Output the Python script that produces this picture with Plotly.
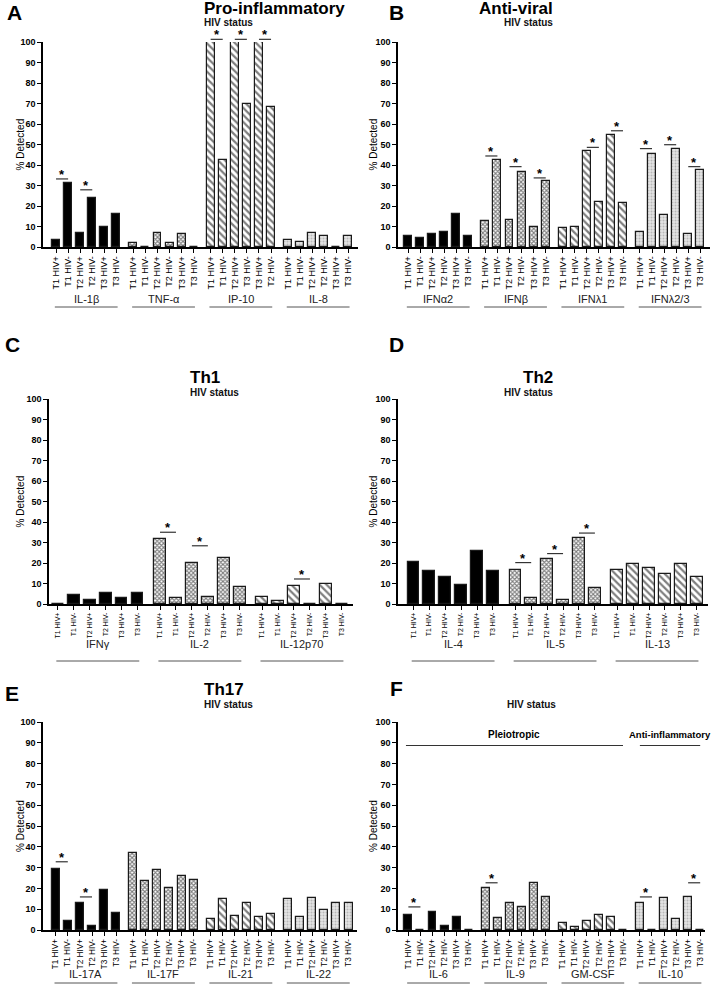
import plotly.graph_objects as go

# ---------------- data ----------------
tick_labels = ["T1 HIV+", "T1 HIV-", "T2 HIV+", "T2 HIV-", "T3 HIV+", "T3 HIV-"]
ip10_labels = ["T1 HIV+", "T1 HIV-", "T2 HIV+", "T3 HIV-", "T3 HIV+", "T2 HIV-"]

# Panel A - Pro-inflammatory
a_groups = ["IL-1β", "TNF-α", "IP-10", "IL-8"]
a_il1b = [3.5, 31.0, 6.7, 24.0, 9.7, 16.0]
a_tnfa = [1.8, 0, 6.7, 1.8, 6.5, 0]
a_ip10 = [100, 42.5, 100, 70.0, 100, 68.5]
a_il8 = [3.5, 2.5, 6.7, 5.5, 0, 5.5]
a_sig = [(0, 0, 1, 33.2), (0, 2, 3, 27.9), (2, 0, 1, 101.3), (2, 2, 3, 101.3), (2, 4, 5, 101.3)]

# Panel B - Anti-viral
b_groups = ["IFNα2", "IFNβ", "IFNλ1", "IFNλ2/3"]
b_ifna2 = [5.6, 4.2, 6.5, 7.2, 16.0, 5.3]
b_ifnb = [12.8, 42.3, 13.2, 36.8, 9.6, 32.2]
b_ifnl1 = [9.2, 10.0, 46.7, 22.1, 54.7, 21.4]
b_ifnl23 = [7.2, 45.5, 15.4, 47.9, 6.4, 37.6]
b_sig = [(1, 0, 1, 44.4), (1, 2, 3, 39.2), (1, 4, 5, 33.7), (2, 2, 3, 48.6), (2, 4, 5, 56.7),
         (3, 0, 1, 48.0), (3, 2, 3, 49.9), (3, 4, 5, 39.2)]

# Panel C - Th1
c_groups = ["IFNγ", "IL-2", "IL-12p70"]
c_ifng = [0, 4.2, 2.0, 5.5, 3.0, 5.3]
c_il2 = [31.5, 2.8, 20.0, 3.5, 22.5, 8.1]
c_il12 = [3.5, 1.3, 8.8, 0, 9.8, 0]
c_sig = [(1, 0, 1, 35.0), (1, 2, 3, 28.4), (2, 2, 3, 12.2)]

# Panel D - Th2
d_groups = ["IL-4", "IL-5", "IL-13"]
d_il4 = [20.3, 16.3, 13.2, 9.2, 25.8, 16.1]
d_il5 = [16.6, 3.0, 22.1, 1.8, 32.2, 8.0]
d_il13 = [16.6, 19.3, 17.6, 14.8, 19.3, 13.3]
d_sig = [(1, 0, 1, 20.2), (1, 2, 3, 24.6), (1, 4, 5, 34.6)]

# Panel E - Th17
e_groups = ["IL-17A", "IL-17F", "IL-21", "IL-22"]
e_il17a = [29.4, 4.3, 13.2, 1.8, 19.3, 8.0]
e_il17f = [36.8, 23.8, 28.8, 20.2, 25.8, 24.2]
e_il21 = [5.4, 14.8, 6.5, 12.8, 6.4, 7.9]
e_il22 = [14.8, 6.1, 15.4, 9.6, 12.8, 12.8]
e_sig = [(0, 0, 1, 32.8), (0, 2, 3, 15.9)]

# Panel F - Pleiotropic / Anti-inflammatory
f_groups = ["IL-6", "IL-9", "GM-CSF", "IL-10"]
f_il6 = [7.3, 0, 8.8, 1.8, 6.3, 0]
f_il9 = [20.2, 5.8, 13.2, 10.9, 22.4, 16.1]
f_gmcsf = [3.5, 1.3, 4.3, 7.3, 6.4, 0]
f_il10 = [12.8, 0, 15.4, 5.3, 16.0, 0]
f_sig = [(0, 0, 1, 11.1), (1, 0, 1, 22.7), (3, 0, 1, 15.9), (3, 4, 5, 22.7)]
f_brackets = [("Pleiotropic", 0, 2, 88.7), ("Anti-inflammatory", 3, 3, 88.7)]

# ---------------- layout helpers ----------------
W, H = 715, 991
FONT = "Liberation Sans, Arial, sans-serif"
STRIDE = 6.4


def px(x):
    return x / W


def py(y):
    return 1 - y / H


def pos(g, k):
    return g * STRIDE + k


styles = [
    dict(color="black", pattern=dict(shape="")),
    dict(color="white", pattern=dict(shape="x", fgcolor="black", bgcolor="white", size=3, solidity=0.6)),
    dict(color="white", pattern=dict(shape="\\", fgcolor="black", bgcolor="white", size=5, solidity=0.45)),
    dict(color="#d9d9d9", pattern=dict(shape=".", fgcolor="#8c8c8c", bgcolor="#e4e4e4", size=3, solidity=0.35)),
]

panels = [
    dict(letter="A", title="Pro-inflammatory", groups=a_groups,
         values=[a_il1b, a_tnfa, a_ip10, a_il8],
         labels=[tick_labels, tick_labels, ip10_labels, tick_labels], sig=a_sig,
         dx=(43, 358), dy=(42, 247), xr=(-1.08, 25.0), bw=0.66, tfs=9,
         letter_xy=(14, 12), title_xy=(202, 9), hiv_xy=(202, 23), ylab_x=20,
         glabel_y=299, gline_y=307),
    dict(letter="B", title="Anti-viral", groups=b_groups,
         values=[b_ifna2, b_ifnb, b_ifnl1, b_ifnl23],
         labels=[tick_labels] * 4, sig=b_sig,
         dx=(398, 710), dy=(42, 247), xr=(-0.83, 25.0), bw=0.66, tfs=9,
         letter_xy=(396, 12), title_xy=(555, 9), hiv_xy=(555, 23), ylab_x=373,
         glabel_y=299, gline_y=307),
    dict(letter="C", title="Th1", groups=c_groups,
         values=[c_ifng, c_il2, c_il12],
         labels=[tick_labels] * 3, sig=c_sig,
         dx=(49, 353), dy=(399, 604), xr=(-0.56, 18.5), bw=0.72, tfs=7,
         letter_xy=(12, 345), title_xy=(188, 377), hiv_xy=(188, 392), ylab_x=20,
         glabel_y=644, gline_y=661),
    dict(letter="D", title="Th2", groups=d_groups,
         values=[d_il4, d_il5, d_il13],
         labels=[tick_labels] * 3, sig=d_sig,
         dx=(398, 708), dy=(399, 604), xr=(-0.96, 18.5), bw=0.72, tfs=7,
         letter_xy=(396, 345), title_xy=(555, 377), hiv_xy=(555, 392), ylab_x=373,
         glabel_y=644, gline_y=661),
    dict(letter="E", title="Th17", groups=e_groups,
         values=[e_il17a, e_il17f, e_il21, e_il22],
         labels=[tick_labels] * 4, sig=e_sig,
         dx=(43, 357), dy=(722, 930), xr=(-1.05, 24.9), bw=0.66, tfs=8.2,
         letter_xy=(12, 693), title_xy=(202, 689), hiv_xy=(202, 704), ylab_x=20,
         glabel_y=974, gline_y=983),
    dict(letter="F", title="", groups=f_groups,
         values=[f_il6, f_il9, f_gmcsf, f_il10],
         labels=[tick_labels] * 4, sig=f_sig,
         dx=(398, 705), dy=(722, 930), xr=(-0.86, 24.6), bw=0.66, tfs=8.2,
         letter_xy=(396, 688), title_xy=(558, 689), hiv_xy=(558, 704), ylab_x=373,
         glabel_y=974, gline_y=983),
]

fig = go.Figure()
annotations = []
shapes = []
layout_axes = {}


def yval_to_paper(p, v):
    top, bot = py(p["dy"][0]), py(p["dy"][1])
    return bot + (top - bot) * v / 100.0


for i, p in enumerate(panels, start=1):
    xa = "x" if i == 1 else f"x{i}"
    ya = "y" if i == 1 else f"y{i}"
    tickvals, ticktext = [], []
    for g, (name, vals) in enumerate(zip(p["groups"], p["values"])):
        xs = [pos(g, k) for k in range(len(vals))]
        tickvals += xs
        ticktext += p["labels"][g]
        st = styles[g]
        fig.add_trace(go.Bar(
            x=xs, y=vals, xaxis=xa, yaxis=ya, width=p["bw"], name=name,
            marker=dict(color=st["color"], pattern=st["pattern"],
                        line=dict(color="#1a1a1a", width=1.2)),
            showlegend=False, hoverinfo="x+y"))
        annotations.append(dict(xref=xa, yref="paper", x=pos(g, 2.5), y=py(p["glabel_y"]),
                                text=name, showarrow=False, yanchor="middle",
                                font=dict(family=FONT, size=11, color="#222")))
        shapes.append(dict(type="line", xref=xa, yref="paper",
                           x0=pos(g, -0.1), x1=pos(g, 5.1),
                           y0=py(p["gline_y"]), y1=py(p["gline_y"]),
                           line=dict(color="#555", width=1)))
    for (g, a, b, yv) in p["sig"]:
        yp = yval_to_paper(p, yv)
        shapes.append(dict(type="line", xref=xa, yref="paper", x0=pos(g, a), x1=pos(g, b),
                           y0=yp, y1=yp, line=dict(color="#333", width=1.2)))
        annotations.append(dict(xref=xa, yref="paper", x=pos(g, (a + b) / 2), y=yp,
                                text="<b>*</b>", showarrow=False, yanchor="bottom", yshift=-5,
                                font=dict(family=FONT, size=13, color="black")))
    ax_key = "xaxis" if i == 1 else f"xaxis{i}"
    ay_key = "yaxis" if i == 1 else f"yaxis{i}"
    layout_axes[ax_key] = dict(
        domain=[px(p["dx"][0]), px(p["dx"][1])], anchor=ya, range=list(p["xr"]),
        automargin=False,
        tickmode="array", tickvals=tickvals, ticktext=ticktext, tickangle=-90,
        ticks="outside", ticklen=4, tickcolor="black", tickwidth=1,
        showline=True, linecolor="black", linewidth=1.5, showgrid=False, zeroline=False,
        tickfont=dict(family=FONT, size=p["tfs"], color="black"), fixedrange=True)
    layout_axes[ay_key] = dict(
        domain=[py(p["dy"][1]), py(p["dy"][0])], anchor=xa, range=[0, 100],
        automargin=False,
        tickmode="linear", tick0=0, dtick=10, ticks="outside", ticklen=4,
        tickcolor="black", tickwidth=1, showline=True, linecolor="black", linewidth=1.5,
        showgrid=False, zeroline=False,
        tickfont=dict(family=FONT, size=9, color="black", weight="bold"), fixedrange=True)
    annotations.append(dict(xref="paper", yref="paper", x=px(p["letter_xy"][0]), y=py(p["letter_xy"][1]),
                            text=f"<b>{p['letter']}</b>", showarrow=False, xanchor="center", yanchor="middle",
                            font=dict(family=FONT, size=21, color="black")))
    if p["title"]:
        annotations.append(dict(xref="paper", yref="paper", x=px(p["title_xy"][0]), y=py(p["title_xy"][1]),
                                text=f"<b>{p['title']}</b>", showarrow=False, yanchor="middle",
                                font=dict(family=FONT, size=17, color="black")))
    annotations.append(dict(xref="paper", yref="paper", x=px(p["hiv_xy"][0]), y=py(p["hiv_xy"][1]),
                            text="<b>HIV status</b>", showarrow=False, yanchor="middle",
                            font=dict(family=FONT, size=10, color="#111")))
    annotations.append(dict(xref="paper", yref="paper", x=px(p["ylab_x"]),
                            y=py((p["dy"][0] + p["dy"][1]) / 2), text="% Detected",
                            textangle=-90, showarrow=False, xanchor="center", yanchor="middle",
                            font=dict(family=FONT, size=10, color="black")))

# Panel F brackets (Pleiotropic / Anti-inflammatory)
pf = panels[5]
for (txt, g0, g1, yv) in f_brackets:
    x0 = pos(g0, -0.2) if g0 == 0 else pos(g0, 0)
    x1 = pos(g1, 5)
    yp = yval_to_paper(pf, yv)
    shapes.append(dict(type="line", xref="x6", yref="paper", x0=x0, x1=x1, y0=yp, y1=yp,
                       line=dict(color="#333", width=1.2)))
    if g0 == 0:
        annotations.append(dict(xref="x6", yref="paper", x=(x0 + x1) / 2, y=yp, yshift=4,
                                text=f"<b>{txt}</b>", showarrow=False, yanchor="bottom",
                                font=dict(family=FONT, size=10, color="black")))
    else:
        annotations.append(dict(xref="paper", yref="paper", x=px(713), y=yp, yshift=4,
                                text=f"<b>{txt}</b>", showarrow=False, yanchor="bottom",
                                xanchor="right",
                                font=dict(family=FONT, size=9.5, color="black")))

fig.update_layout(
    width=W, height=H, margin=dict(l=0, r=0, t=0, b=0, autoexpand=False),
    paper_bgcolor="white", plot_bgcolor="white", bargap=0,
    annotations=annotations, shapes=shapes, font=dict(family=FONT),
    **layout_axes)

fig.write_html("out.html", config={"displayModeBar": False},
               post_script="document.body.style.margin='0';document.body.style.overflow='hidden';")
